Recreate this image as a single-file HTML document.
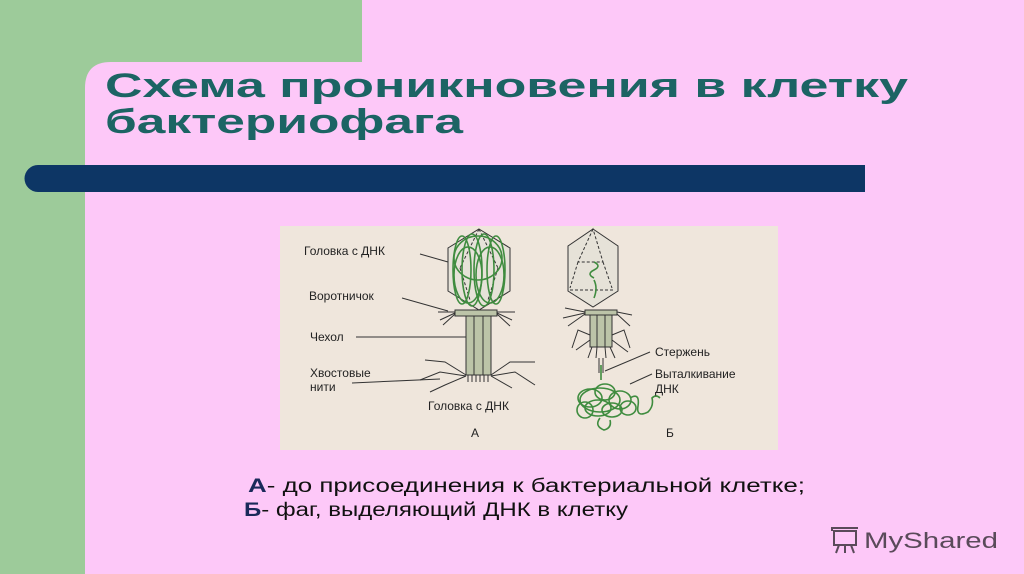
<!DOCTYPE html>
<html><head><meta charset="utf-8"><style>
html,body{margin:0;padding:0;width:1024px;height:574px;overflow:hidden;background:#9dcb9a}
</style></head><body>
<svg width="1024" height="574" viewBox="0 0 1024 574" xmlns="http://www.w3.org/2000/svg" style="display:block">
<rect x="0" y="0" width="1024" height="574" fill="#9dcb9a"/>
<rect x="362" y="0" width="662" height="70" fill="#fdc8f8"/>
<path d="M85 574 V88 Q85 62 111 62 H1024 V574 Z" fill="#fdc8f8"/>
<g font-family="Liberation Sans, sans-serif" font-weight="bold" fill="#1c6464" font-size="34">
<text x="105" y="97" textLength="803" lengthAdjust="spacingAndGlyphs">Схема проникновения в клетку</text>
<text x="105" y="133" textLength="358" lengthAdjust="spacingAndGlyphs">бактериофага</text>
</g>
<path d="M38 165 H865 V192 H38 A13.5 13.5 0 0 1 38 165 Z" fill="#0d3665"/>
<rect x="280" y="226" width="498" height="224" fill="#efe6dc"/>
<g stroke="#333" stroke-width="1" fill="none">
<polygon points="479,229 510,248 510,291 479,310 448,291 448,248" fill="#e6e2d8"/>
<path d="M479 229 L460 268 M479 229 L498 268 M460 268 L470 300 M498 268 L488 300" stroke-dasharray="3,2"/>
<rect x="455" y="310" width="42" height="6" fill="#bcc4a8"/>
<rect x="466" y="316" width="25" height="59" fill="#bcc4a8"/>
<line x1="474" y1="316" x2="474" y2="375"/><line x1="483" y1="316" x2="483" y2="375"/>
<path d="M455 313 L440 320 M455 314 L443 325 M497 313 L512 320 M497 314 L510 326 M455 312 L438 312 M497 312 L515 312"/>
<path d="M466 375 L445 362 L425 360 M466 376 L440 372 L420 380 M491 375 L510 362 L535 362 M491 376 L515 372 L535 385 M466 376 L445 385 L430 392 M491 376 L512 388"/>
<path d="M468 375 v7 M472 375 v7 M476 375 v7 M480 375 v7 M484 375 v7 M488 375 v7"/>
<path d="M420 254 L448 262 M402 298 L448 311 M356 337 L466 337 M352 383 L440 379"/>
<polygon points="593,229 618,246 618,291 593,307 568,291 568,246" fill="#e6e2d8"/>
<path d="M593 229 L578 262 L603 262 Z M578 262 L570 288 M603 262 L612 288 M570 290 L615 290" stroke-dasharray="3,2"/>
<rect x="585" y="310" width="32" height="5" fill="#bcc4a8"/>
<rect x="590" y="315" width="22" height="32" fill="#bcc4a8"/>
<line x1="597" y1="315" x2="597" y2="347"/><line x1="605" y1="315" x2="605" y2="347"/>
<path d="M585 312 L565 308 M585 313 L563 318 M585 314 L568 326 M617 312 L632 315 M617 314 L630 326"/>
<path d="M590 335 L578 330 L572 348 M590 340 L576 350 M612 335 L624 330 L630 348 M612 340 L628 352"/>
<path d="M592 347 L588 358 M597 347 L596 358 M605 347 L606 358 M610 347 L615 358"/>
<path d="M599 358 v15 M603 358 v15"/>
<path d="M605 371 L650 352 M630 384 L652 374"/>
</g>
<g stroke="#3f8c3f" stroke-width="1.6" fill="none">
<ellipse cx="462" cy="270" rx="9" ry="34"/><ellipse cx="472" cy="270" rx="10" ry="36"/>
<ellipse cx="484" cy="270" rx="10" ry="36"/><ellipse cx="496" cy="270" rx="9" ry="34"/>
<ellipse cx="478" cy="258" rx="24" ry="22"/><ellipse cx="468" cy="275" rx="14" ry="28"/><ellipse cx="490" cy="275" rx="14" ry="28"/>
<path d="M594 278 q-8 -4 0 -8 q8 -4 0 -8 M594 280 q4 8 0 18"/>
<path d="M601 365 L601 380"/>
<ellipse cx="590" cy="398" rx="12" ry="9"/><ellipse cx="605" cy="392" rx="10" ry="8"/>
<ellipse cx="620" cy="400" rx="11" ry="9"/><ellipse cx="598" cy="408" rx="13" ry="8"/>
<ellipse cx="612" cy="410" rx="10" ry="7"/><ellipse cx="585" cy="410" rx="8" ry="8"/>
<ellipse cx="628" cy="408" rx="8" ry="7"/><ellipse cx="600" cy="400" rx="20" ry="12"/>
<path d="M630 398 q10 -6 8 8 q-2 12 10 6 q6 -6 4 -14 q4 -4 8 0 M600 418 q-6 8 4 12 q8 -2 6 -10"/>
</g>
<g font-family="Liberation Sans, sans-serif" font-size="12" fill="#222">
<text x="304" y="255">Головка с ДНК</text>
<text x="309" y="300">Воротничок</text>
<text x="310" y="341">Чехол</text>
<text x="310" y="377">Хвостовые</text>
<text x="310" y="391">нити</text>
<text x="428" y="410">Головка с ДНК</text>
<text x="471" y="437">А</text>
<text x="666" y="437">Б</text>
<text x="655" y="356">Стержень</text>
<text x="655" y="378">Выталкивание</text>
<text x="655" y="393">ДНК</text>
</g>
<g font-family="Liberation Sans, sans-serif" font-size="19" fill="#111">
<text x="248" y="492" textLength="557" lengthAdjust="spacingAndGlyphs"><tspan font-weight="bold" fill="#1a2a5a">А</tspan>- до присоединения  к бактериальной клетке;</text>
<text x="244" y="516" textLength="384" lengthAdjust="spacingAndGlyphs"><tspan font-weight="bold" fill="#1a2a5a">Б</tspan>- фаг, выделяющий ДНК в клетку</text>
</g>
<g stroke="#5a4a5a" stroke-width="2" fill="none">
<rect x="834" y="531" width="22" height="14"/>
<path d="M832 531 v-3 h26 M839 545 l-3 8 M845 545 v8 M851 545 l3 8"/>
</g>
<text x="864" y="548" font-family="Liberation Sans, sans-serif" font-size="22" fill="#5a4a5a" textLength="134" lengthAdjust="spacingAndGlyphs">MyShared</text>
</svg>
</body></html>
